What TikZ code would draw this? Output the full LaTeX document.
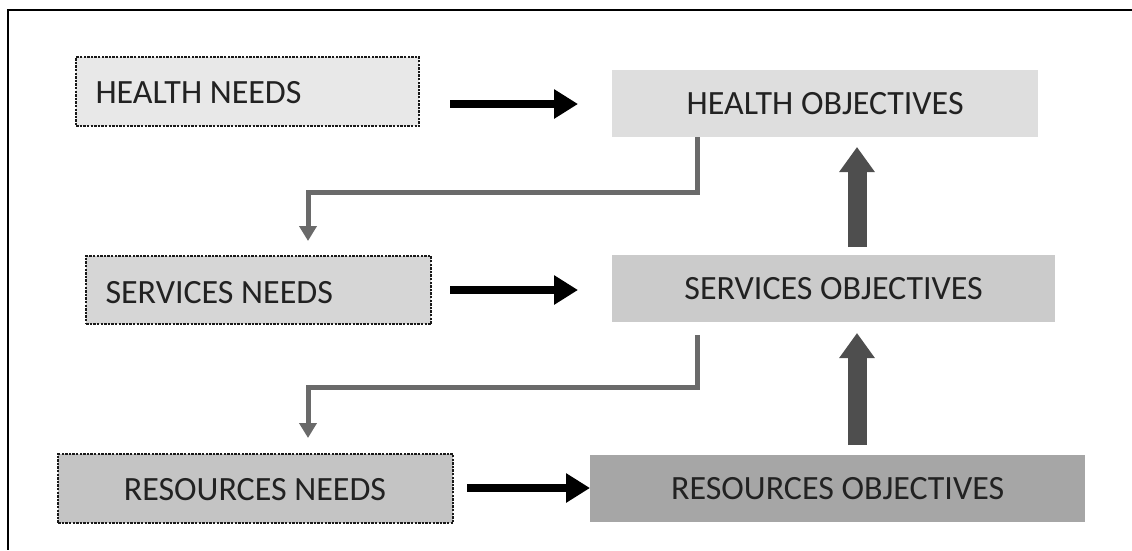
\documentclass[tikz,border=0pt]{standalone}
\usepackage{fontspec}
\setmainfont{Carlito}
\usetikzlibrary{arrows.meta}
\definecolor{needA}{HTML}{E8E8E8}
\definecolor{needB}{HTML}{D6D6D6}
\definecolor{needC}{HTML}{C4C4C4}
\definecolor{objA}{HTML}{DEDEDE}
\definecolor{objB}{HTML}{CBCBCB}
\definecolor{objC}{HTML}{A6A6A6}
\definecolor{upgray}{HTML}{4E4E4E}
\definecolor{elbowgray}{HTML}{6A6A6A}
\definecolor{txt}{HTML}{222222}
\tikzset{
  needbox/.style={draw=black!90, line width=2.4pt, dash pattern=on 2.4pt off 1.2pt,
    inner sep=0pt, anchor=north west},
  objbox/.style={draw=none, inner sep=0pt, anchor=north west},
  lbl/.style={font=\fontsize{34}{36}\selectfont, text=txt},
  flow/.style={line width=8pt, -{Triangle[length=24pt,width=28pt]}},
  upflow/.style={line width=19pt, draw=upgray, -{Triangle[length=25pt,width=34pt]}},
  elbow/.style={line width=5pt, draw=elbowgray, -{Triangle[length=15pt,width=17pt]}}
}
\begin{document}
\begin{tikzpicture}[x=1pt,y=-1pt]
\useasboundingbox (0,0) rectangle (1132,550);
% outer frame (only top and left edges show)
\draw[line width=2pt] (1132,10) -- (8,10) -- (8,550);

% need boxes (dotted borders)
\node[needbox, fill=needA, minimum width=343pt, minimum height=69pt] (hn) at (75,56) {};
\node[lbl, anchor=west] (hnt) at (92,93) {HEALTH NEEDS};
\node[needbox, fill=needB, minimum width=345pt, minimum height=68pt] (sn) at (85,255) {};
\node[lbl, anchor=west] (snt) at (102,293) {SERVICES NEEDS};
\node[needbox, fill=needC, minimum width=395pt, minimum height=69pt] (rn) at (57,453) {};
\node[lbl] (rnt) at (255,490) {RESOURCES NEEDS};

% objective boxes
\node[objbox, fill=objA, minimum width=426pt, minimum height=67pt] (ho) at (612,70) {};
\node[lbl] at (ho.center) {HEALTH OBJECTIVES};
\node[objbox, fill=objB, minimum width=443pt, minimum height=67pt] (so) at (612,255) {};
\node[lbl] at (so.center) {SERVICES OBJECTIVES};
\node[objbox, fill=objC, minimum width=495pt, minimum height=67pt] (ro) at (590,455) {};
\node[lbl] at (ro.center) {RESOURCES OBJECTIVES};

% helper points for the arrows
\coordinate (a1s) at (450,104); \coordinate (a1e) at (578,104);
\coordinate (a2s) at (450,290); \coordinate (a2e) at (578,290);
\coordinate (a3s) at (467,488);

% needs -> objectives
\draw[flow] (a1s) -- (a1e);
\draw[flow] (a2s) -- (a2e);
\draw[flow] (a3s) -- (ro.west |- a3s);

% objectives feed upward
\draw[upflow] (857,247) -- (857,147);
\draw[upflow] (857,445) -- (857,333);

% objectives cascade down to the next needs
\draw[elbow] (697,137) -- (697,192) -- (308,192) -- (308,241);
\draw[elbow] (697,335) -- (697,387) -- (308,387) -- (308,438);
\end{tikzpicture}
\end{document}
